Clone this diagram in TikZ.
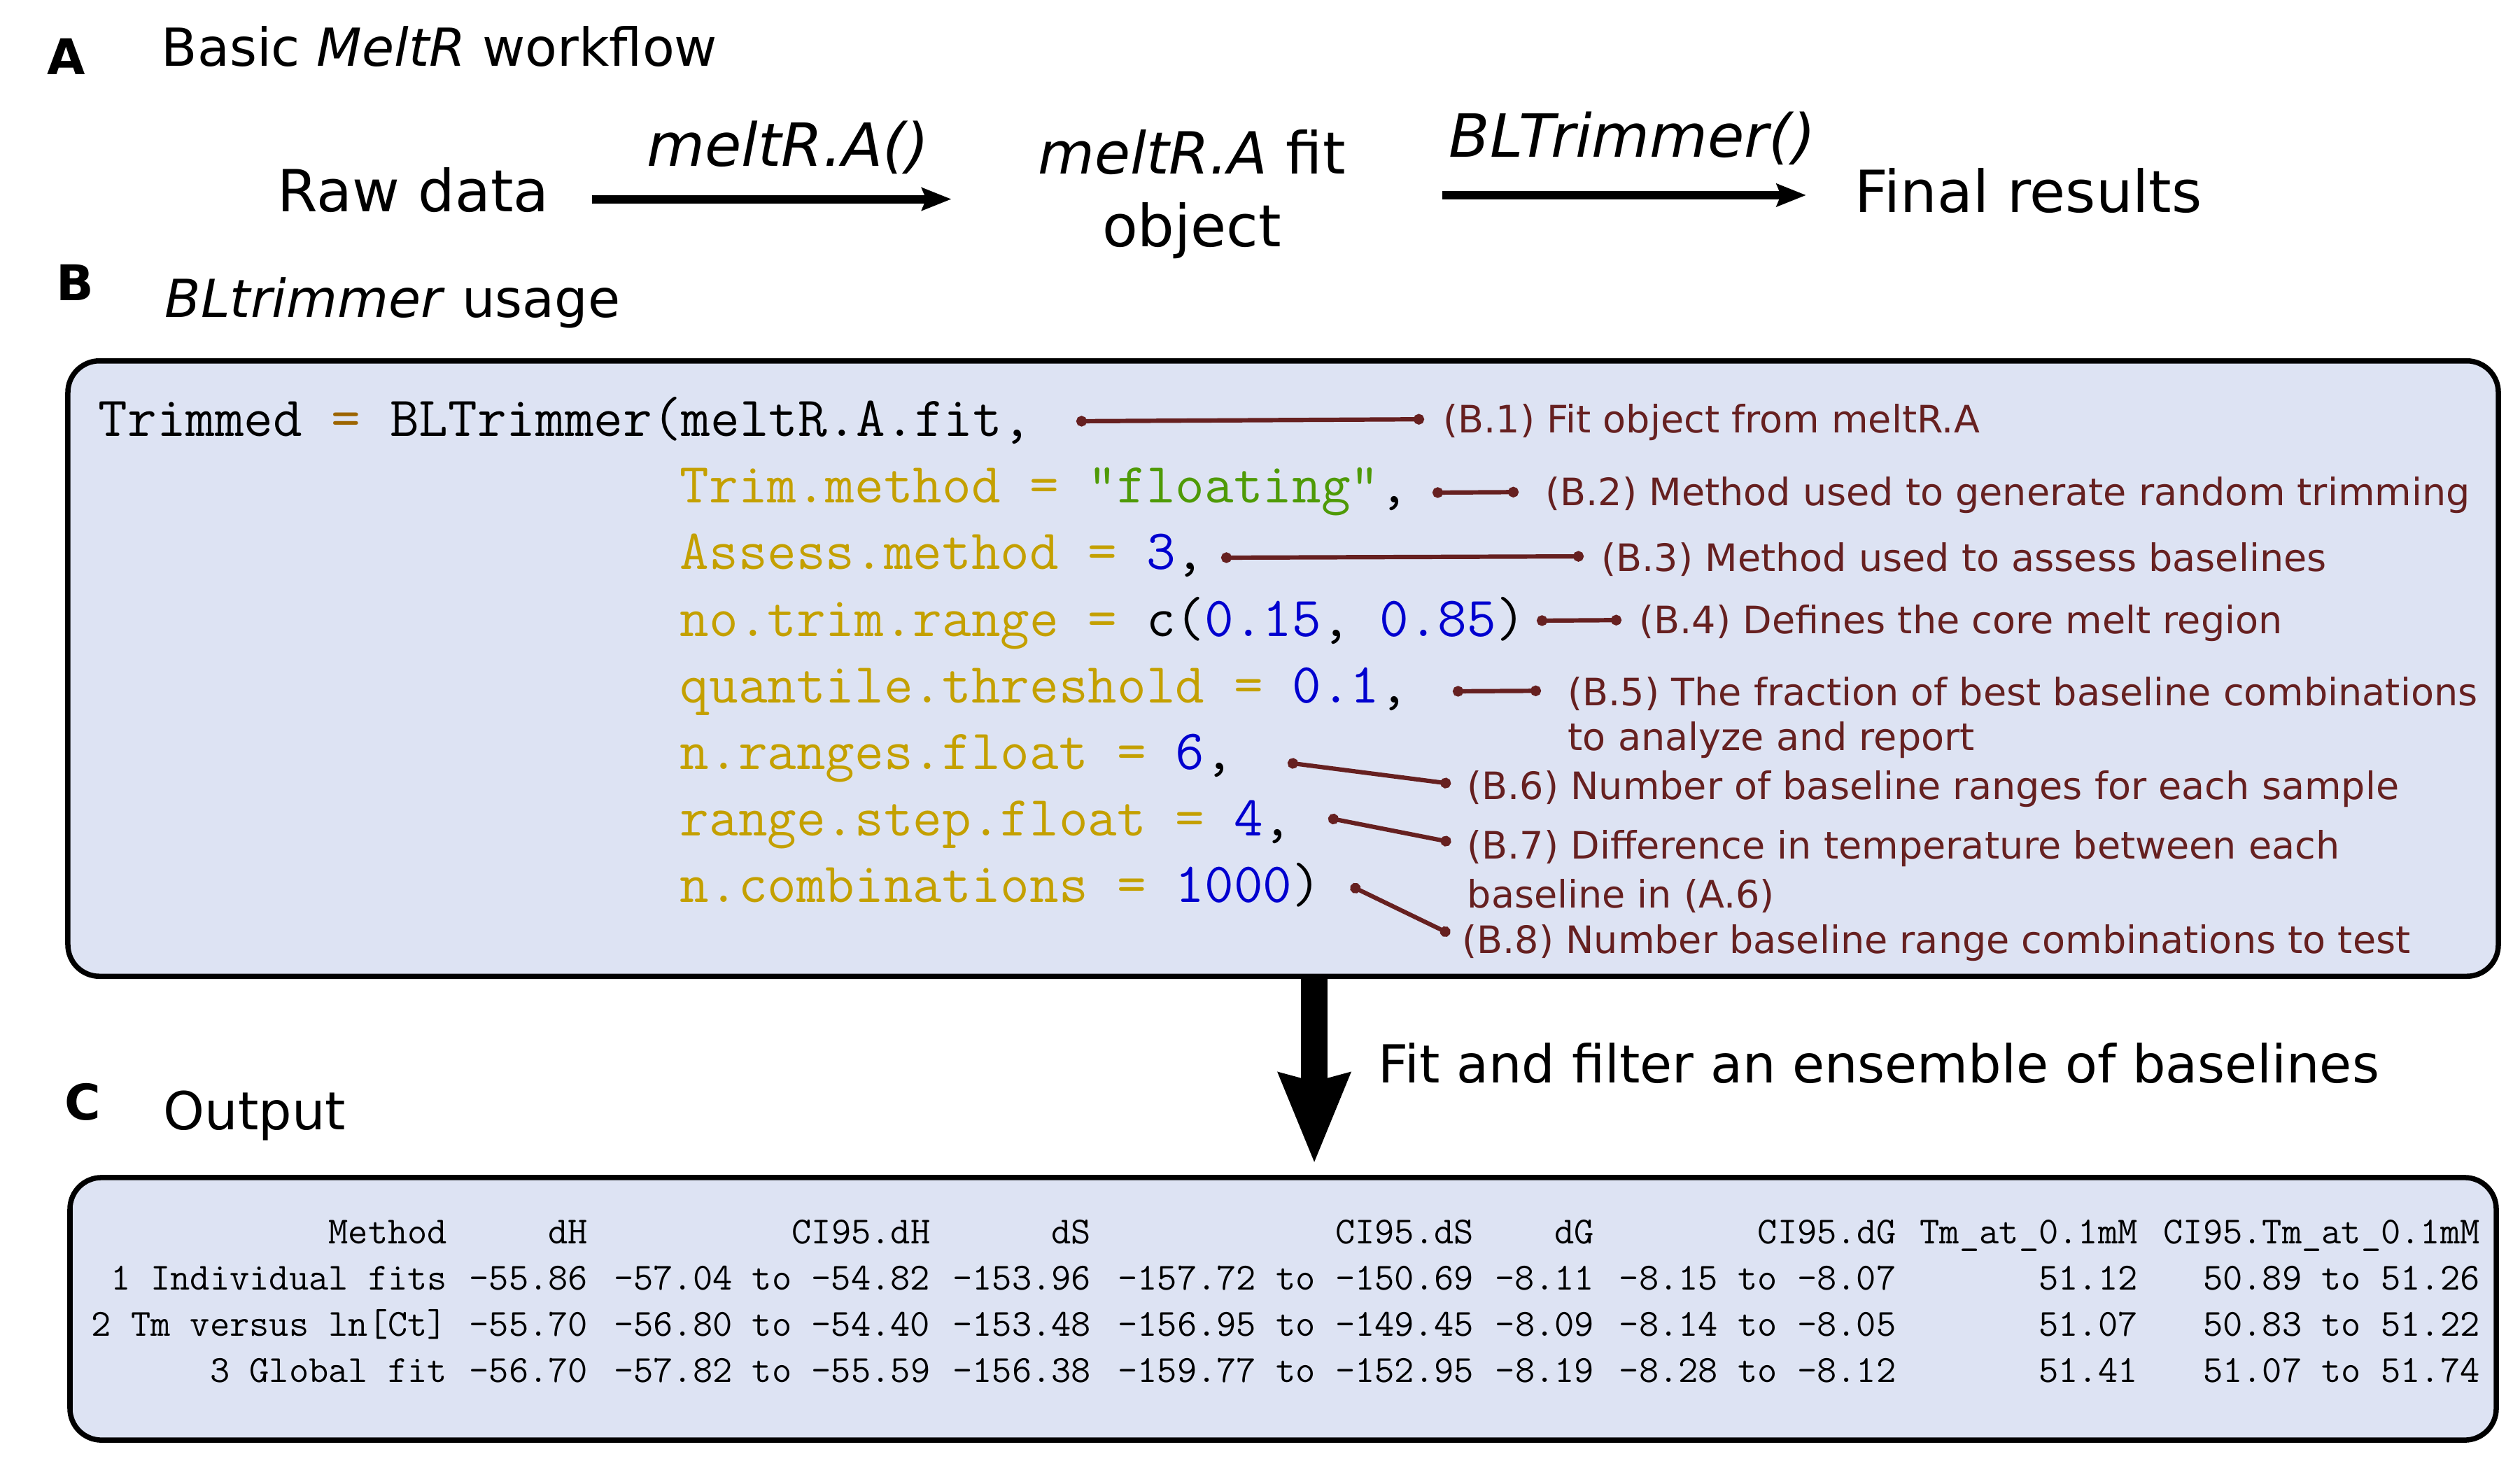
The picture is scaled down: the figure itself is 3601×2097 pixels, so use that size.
\documentclass[tikz,border=0pt]{standalone}
\usepackage{fontspec}
\usetikzlibrary{arrows.meta,positioning}
\newfontfamily\dejavu{DejaVu Sans}[ItalicFont={DejaVu Sans Oblique},BoldFont={DejaVu Sans Bold}]

\definecolor{panelfill}{RGB}{221,227,243}
\definecolor{notecol}{RGB}{102,32,32}
\definecolor{argcol}{RGB}{196,160,0}
\definecolor{eqcol}{RGB}{156,101,0}
\definecolor{strcol}{RGB}{78,154,6}
\definecolor{numcol}{RGB}{0,0,207}

% code colouring
\newcommand\argn[1]{\textcolor{argcol}{#1}}
\newcommand\cnum[1]{\textcolor{numcol}{#1}}
\newcommand\cstr[1]{\textcolor{strcol}{#1}}
% right aligned column of #1 mono characters
\newcommand\tcol[2]{\makebox[#1\dimexpr0.525em\relax][r]{#2}}

\begin{document}
\begin{tikzpicture}[x=0.01cm, y=-0.01cm,
    every node/.style={inner sep=0pt},
    paneltag/.style={font=\dejavu\bfseries\fontsize{20}{24}\selectfont},
    headline/.style={font=\dejavu\fontsize{21.3}{25.6}\selectfont, anchor=base west},
    stage/.style={font=\dejavu\fontsize{23.6}{29.6}\selectfont},
    fname/.style={font=\dejavu\itshape\fontsize{24.2}{29}\selectfont, anchor=base west},
    panel/.style={draw, line width=0.075cm, fill=panelfill, rounded corners=0.45cm},
    codeline/.style={font=\ttfamily\frenchspacing\fontsize{23}{27.6}\selectfont, anchor=base west},
    tabrow/.style={font=\ttfamily\frenchspacing\fontsize{15.6}{18.7}\selectfont, anchor=base west},
    note/.style={font=\dejavu\fontsize{15.35}{18.4}\selectfont, text=notecol, anchor=west},
    notelink/.style={draw=notecol, line width=0.062cm, {Circle[length=0.15cm]}-{Circle[length=0.15cm]}},
    flow/.style={line width=0.12cm, -{Stealth[length=0.42cm, width=0.32cm, inset=0.06cm]}},
    bigflow/.style={line width=0.38cm, -{Stealth[length=1.27cm, width=0.97cm, inset=0.1cm]}}]
    \useasboundingbox (0,0) rectangle (3601,2097);

    % A: workflow
    \node[paneltag] (tagA) at (95,81) {A};
    \node[headline] (headA) at (230,95) {Basic \textit{MeltR} workflow};
    \node[stage, anchor=base west] (raw) at (396,302) {Raw data};
    \node[stage, anchor=north, align=center] (fitobj) at (1703,185) {\textit{meltR.A} fit\\object};
    \node[stage, anchor=base west] (final) at (2650,303) {Final results};
    \node[fname] (fnA) at (924,238) {meltR.A()};
    \node[fname] (fnB) at (2070,225) {BLTrimmer()};
    \coordinate (a1) at ([yshift=-0.135cm]raw.east);
    \coordinate (a2) at ([yshift=-0.01cm]fitobj.east);
    \draw[flow, shorten <=0.61cm, shorten >=1.23cm] (a1) -- (a1 -| fitobj.west);
    \draw[flow, shorten <=1.37cm, shorten >=0.69cm] (a2) -- (a2 -| final.west);

    % B: BLTrimmer call
    \node[paneltag] (tagB) at (107,404) {B};
    \node[headline] (headB) at (235,453) {\textit{BLtrimmer} usage};
    \node[panel, minimum width=34.71cm, minimum height=8.79cm] (codebox) at (1833.5,955.5) {};

    \node[codeline] (l1) at (140,623) {Trimmed \textcolor{eqcol}{=} BLTrimmer(meltR.A.fit,};
    \node[codeline] (l2) at (971,718) {\argn{Trim.method =} \cstr{"floating"},};
    \node[codeline] (l3) at (971,813) {\argn{Assess.method =} \cnum{3},};
    \node[codeline] (l4) at (971,909) {\argn{no.trim.range =} c(\cnum{0.15}, \cnum{0.85})};
    \node[codeline] (l5) at (971,1004) {\argn{quantile.threshold =} \cnum{0.1},};
    \node[codeline] (l6) at (971,1099) {\argn{n.ranges.float =} \cnum{6},};
    \node[codeline] (l7) at (971,1194) {\argn{range.step.float =} \cnum{4},};
    \node[codeline] (l8) at (971,1289) {\argn{n.combinations =} \cnum{1000})};

    % notes on the arguments
    \node[note] (b1) at (2062,604) {(B.1) Fit object from meltR.A};
    \node[note] (b2) at (2208,708) {(B.2) Method used to generate random trimming};
    \node[note] (b3) at (2288,800) {(B.3) Method used to assess baselines};
    \node[note] (b4) at (2342,891) {(B.4) Defines the core melt region};
    \node[note] (b5) at (2240,992) {(B.5) The fraction of best baseline combinations};
    \node[note] (b5b) at ([yshift=-0.66cm]b5.west) {to analyze and report};
    \node[note] (b6) at (2096,1128) {(B.6) Number of baseline ranges for each sample};
    \node[note] (b7) at (2096,1213) {(B.7) Difference in temperature between each};
    \node[note] (b7b) at ([yshift=-0.67cm]b7.west) {baseline in (A.6)};
    \node[note] (b8) at (2089,1348) {(B.8) Number baseline range combinations to test};

    \coordinate (s1) at (1538,602);
    \coordinate (s2) at (2047,704);
    \coordinate (s3) at (1745,797);
    \coordinate (s4) at (2196,887);
    \coordinate (s5) at (2076,988);
    \coordinate (s6) at (1840,1090);
    \coordinate (s7) at (1898,1169);
    \coordinate (s8) at (1930,1266);
    \foreach \i/\gap in {1/0.27cm,2/0.38cm,3/0.25cm,4/0.25cm,5/0.38cm,6/0.23cm,7/0.23cm,8/0.19cm}
        \draw[notelink, shorten >=\gap] (s\i) -- ([yshift=0.05cm]b\i.west);

    % C: output table
    \node[paneltag] (tagC) at (118,1575) {C};
    \node[headline] (headC) at (233,1614) {Output};
    \node[panel, minimum width=34.65cm, minimum height=3.75cm] (outbox) at (1833.5,1870.5) {};
    \draw[bigflow, shorten >=0.16cm] ([xshift=0.445cm]codebox.south) -- ([xshift=0.445cm]outbox.north);
    \node[headline] (fitnote) at (1969,1547) {Fit and filter an ensemble of baselines};

    \node[tabrow] (hdr) at (120,1777) {\tcol{18}{Method} \tcol{6}{dH} \tcol{16}{CI95.dH} \tcol{7}{dS} \tcol{18}{CI95.dS} \tcol{5}{dG} \tcol{14}{CI95.dG} \tcol{11}{Tm\_at\_0.1mM} \tcol{16}{CI95.Tm\_at\_0.1mM}};
    \node[tabrow] (r1) at (120,1843) {\tcol{18}{1 Individual fits} \tcol{6}{-55.86} \tcol{16}{-57.04 to -54.82} \tcol{7}{-153.96} \tcol{18}{-157.72 to -150.69} \tcol{5}{-8.11} \tcol{14}{-8.15 to -8.07} \tcol{11}{51.12} \tcol{16}{50.89 to 51.26}};
    \node[tabrow] (r2) at (120,1909) {\tcol{18}{2 Tm versus ln[Ct]} \tcol{6}{-55.70} \tcol{16}{-56.80 to -54.40} \tcol{7}{-153.48} \tcol{18}{-156.95 to -149.45} \tcol{5}{-8.09} \tcol{14}{-8.14 to -8.05} \tcol{11}{51.07} \tcol{16}{50.83 to 51.22}};
    \node[tabrow] (r3) at (120,1975) {\tcol{18}{3 Global fit} \tcol{6}{-56.70} \tcol{16}{-57.82 to -55.59} \tcol{7}{-156.38} \tcol{18}{-159.77 to -152.95} \tcol{5}{-8.19} \tcol{14}{-8.28 to -8.12} \tcol{11}{51.41} \tcol{16}{51.07 to 51.74}};
\end{tikzpicture}
\end{document}
